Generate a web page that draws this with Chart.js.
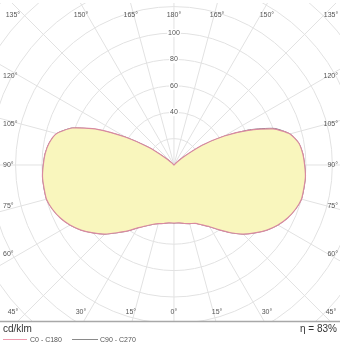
<!DOCTYPE html>
<html>
<head>
<meta charset="utf-8">
<script src="https://cdn.jsdelivr.net/npm/chart.js@4.4.1/dist/chart.umd.min.js"></script>
<style>
  html, body { margin: 0; padding: 0; background: #fff; overflow: hidden; }
  #wrap { position: relative; width: 340px; height: 342px; }
</style>
</head>
<body>
<div id="wrap"><canvas id="c" width="340" height="342"></canvas></div>
<script>
// Luminous intensity (cd/klm) per gamma angle, 0° = straight down
const gammaAngles = [0,5,10,15,20,25,30,35,40,45,50,55,60,65,70,75,80,85,90,
                     95,100,105,110,115,120,125,130,135,140,145,150,155,160,165,170,175,180];
const planeC0   = [44,44,45,46,47,50,54,60,67,74,80,86,91,95,98,100,100,100,99,98,96,91,80,62,44,26,10,3,0,0,0,0,0,0,0,0,0];
const planeC180 = [44,44,45,46,48,51,55,61,67,74,80,86,91,95,98,100,100,100,99,98,96,92,82,64,42,23,8,2,0,0,0,0,0,0,0,0,0];
const planeC90  = [44,44,45,46,47,50,54,60,67,74,80,86,91,95,98,100,100,100,99,98,96,91,81,63,43,25,9,2,0,0,0,0,0,0,0,0,0];
const planeC270 = [44,44,45,46,48,51,55,61,67,74,80,86,91,95,98,100,100,100,99,98,96,92,82,63,42,23,8,2,0,0,0,0,0,0,0,0,0];

const ringValues = [20,40,60,80,100,120,140,160,180,200,220];
const ringLabels = [40,60,80,100];
const spokeStep = 15;
const topLabels    = ['135°','150°','165°','180°','165°','150°','135°'];
const bottomLabels = ['45°','30°','15°','0°','15°','30°','45°'];
const sideLabels   = ['120°','105°','90°','75°','60°'];
const unitLabel = 'cd/klm';
const efficiencyLabel = 'η = 83%';
const seriesNames = ['C0 - C180', 'C90 - C270'];

// Build a closed outline: right half from one plane, left half from its opposite
function outline(right, left) {
  const pts = [];
  gammaAngles.forEach((g, i) => {
    const a = g * Math.PI / 180;
    pts.push({ x: right[i] * Math.sin(a), y: -right[i] * Math.cos(a) });
  });
  for (let i = gammaAngles.length - 1; i >= 0; i--) {
    const a = gammaAngles[i] * Math.PI / 180;
    pts.push({ x: -left[i] * Math.sin(a), y: -left[i] * Math.cos(a) });
  }
  pts.push({ ...pts[0] });
  return pts;
}

const FONT = '"Liberation Sans", Arial, sans-serif';

const polarGrid = {
  id: 'polarGrid',
  beforeDatasetsDraw(chart) {
    const { ctx } = chart;
    const xs = chart.scales.x, ys = chart.scales.y;
    const cx = xs.getPixelForValue(0), cy = ys.getPixelForValue(0);
    ctx.save();
    ctx.beginPath();
    ctx.rect(0, 3, 340, 318);
    ctx.clip();
    ctx.strokeStyle = '#e2e2e2';
    ctx.lineWidth = 1;
    ringValues.forEach(v => {
      const r = xs.getPixelForValue(v) - cx;
      ctx.beginPath();
      ctx.arc(cx, cy, r, 0, Math.PI * 2);
      ctx.stroke();
    });
    for (let g = 0; g < 360; g += spokeStep) {
      const a = g * Math.PI / 180;
      ctx.beginPath();
      ctx.moveTo(cx, cy);
      ctx.lineTo(xs.getPixelForValue(400 * Math.sin(a)), ys.getPixelForValue(-400 * Math.cos(a)));
      ctx.stroke();
    }
    ctx.restore();
  },
  afterDatasetsDraw(chart) {
    const { ctx } = chart;
    const xs = chart.scales.x, ys = chart.scales.y;
    const cx = xs.getPixelForValue(0), cy = ys.getPixelForValue(0);
    ctx.save();
    ctx.font = '7px ' + FONT;
    ctx.fillStyle = '#555';
    ctx.textBaseline = 'middle';
    // radial intensity labels on the upward axis
    ctx.textAlign = 'center';
    ringLabels.forEach(v => {
      const y = ys.getPixelForValue(v);
      const w = ctx.measureText(String(v)).width;
      ctx.fillStyle = '#fff';
      ctx.fillRect(cx - w / 2 - 1, y - 4, w + 2, 8);
      ctx.fillStyle = '#555';
      ctx.fillText(String(v), cx, y);
    });
    // angle labels along the frame
    const reach = 122; // cd/klm units from centre to the label frame
    const offs = [-45, -30, -15, 0, 15, 30, 45];
    offs.forEach((o, i) => {
      let x = xs.getPixelForValue(reach * Math.tan(o * Math.PI / 180));
      x = Math.max(11, Math.min(331, x));
      ctx.textAlign = 'center';
      ctx.fillText(topLabels[i], x, 15);
      ctx.fillText(bottomLabels[i], x, 312);
    });
    const sideOffs = [30, 15, 0, -15, -30];
    sideOffs.forEach((o, i) => {
      const y = ys.getPixelForValue(117 * Math.tan(o * Math.PI / 180));
      ctx.textAlign = 'left';
      ctx.fillText(sideLabels[i], 3, y);
      ctx.textAlign = 'right';
      ctx.fillText(sideLabels[i], 338, y);
    });
    ctx.restore();

    // footer: separator, unit, efficiency and legend
    ctx.save();
    ctx.strokeStyle = '#a8a8a8';
    ctx.lineWidth = 1.5;
    ctx.beginPath();
    ctx.moveTo(0, 321.5);
    ctx.lineTo(340, 321.5);
    ctx.stroke();
    ctx.fillStyle = '#333';
    ctx.textBaseline = 'alphabetic';
    ctx.font = '10px ' + FONT;
    ctx.textAlign = 'left';
    ctx.fillText(unitLabel, 3, 332);
    ctx.textAlign = 'right';
    ctx.fillText(efficiencyLabel, 337, 332);
    ctx.font = '7px ' + FONT;
    ctx.textAlign = 'left';
    ctx.lineWidth = 1;
    ctx.strokeStyle = '#ee9aae';
    ctx.beginPath(); ctx.moveTo(3, 339.5); ctx.lineTo(27, 339.5); ctx.stroke();
    ctx.fillStyle = '#555';
    ctx.fillText(seriesNames[0], 30, 342);
    ctx.strokeStyle = '#8a8a8a';
    ctx.beginPath(); ctx.moveTo(72, 339.5); ctx.lineTo(98, 339.5); ctx.stroke();
    ctx.fillText(seriesNames[1], 100, 342);
    ctx.restore();
  }
};

new Chart(document.getElementById('c'), {
  type: 'scatter',
  data: {
    datasets: [
      {
        label: seriesNames[0],
        data: outline(planeC0, planeC180),
        showLine: true,
        fill: 'shape',
        backgroundColor: '#f9f6bd',
        borderColor: '#d98aa0',
        borderWidth: 1.2,
        pointRadius: 0,
        tension: 0.2
      },
      {
        label: seriesNames[1],
        data: outline(planeC90, planeC270),
        showLine: true,
        fill: false,
        borderColor: '#7d7585',
        borderWidth: 1,
        pointRadius: 0,
        tension: 0.2
      }
    ]
  },
  options: {
    responsive: false,
    animation: false,
    devicePixelRatio: 1,
    layout: { padding: 0 },
    plugins: { legend: { display: false }, tooltip: { enabled: false } },
    scales: {
      x: { type: 'linear', min: -131.8, max: 125.8, display: false },
      y: { type: 'linear', min: -134.1, max: 125, display: false }
    }
  },
  plugins: [polarGrid]
});
</script>
</body>
</html>
